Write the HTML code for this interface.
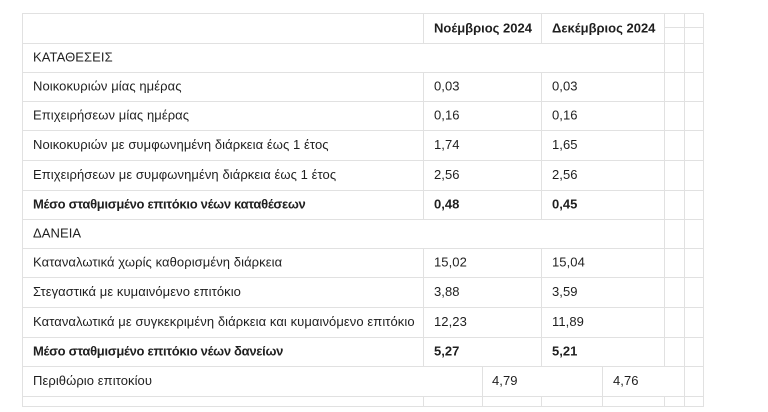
<!DOCTYPE html>
<html>
<head>
<meta charset="utf-8">
<style>
  html,body{margin:0;padding:0;background:#fff;}
  svg{display:block;}
  text{font-family:"Liberation Sans","DejaVu Sans",sans-serif;font-size:13px;fill:#1f1f1f;letter-spacing:0.08px;}
  .b{font-weight:bold;letter-spacing:0;}
  .bb{font-weight:bold;letter-spacing:-0.3px;}
  line{stroke:#e1e1e1;stroke-width:1;shape-rendering:crispEdges;}
</style>
</head>
<body>
<svg width="768" height="412" viewBox="0 0 768 412" xmlns="http://www.w3.org/2000/svg">
  <rect x="0" y="0" width="768" height="412" fill="#fff"/>
  <!-- horizontal lines -->
  <line x1="22" y1="13.5" x2="703" y2="13.5"/>
  <line x1="664" y1="27.5" x2="703" y2="27.5"/>
  <line x1="22" y1="43.5" x2="703" y2="43.5"/>
  <line x1="22" y1="72.5" x2="703" y2="72.5"/>
  <line x1="22" y1="101.5" x2="703" y2="101.5"/>
  <line x1="22" y1="130.5" x2="703" y2="130.5"/>
  <line x1="22" y1="160.5" x2="703" y2="160.5"/>
  <line x1="22" y1="190.5" x2="703" y2="190.5"/>
  <line x1="22" y1="219.5" x2="703" y2="219.5"/>
  <line x1="22" y1="248.5" x2="703" y2="248.5"/>
  <line x1="22" y1="277.5" x2="703" y2="277.5"/>
  <line x1="22" y1="307.5" x2="703" y2="307.5"/>
  <line x1="22" y1="337.5" x2="703" y2="337.5"/>
  <line x1="22" y1="366.5" x2="703" y2="366.5"/>
  <line x1="22" y1="396.5" x2="703" y2="396.5"/>
  <line x1="22" y1="406.5" x2="703" y2="406.5"/>
  <!-- vertical lines -->
  <line x1="22.5" y1="13" x2="22.5" y2="407"/>
  <line x1="703.5" y1="13" x2="703.5" y2="407"/>
  <line x1="684.5" y1="13" x2="684.5" y2="407"/>
  <line x1="664.5" y1="13" x2="664.5" y2="366"/>
  <line x1="664.5" y1="396" x2="664.5" y2="407"/>
  <line x1="423.5" y1="13" x2="423.5" y2="43"/>
  <line x1="423.5" y1="72" x2="423.5" y2="219"/>
  <line x1="423.5" y1="248" x2="423.5" y2="366"/>
  <line x1="423.5" y1="396" x2="423.5" y2="407"/>
  <line x1="541.5" y1="13" x2="541.5" y2="43"/>
  <line x1="541.5" y1="72" x2="541.5" y2="219"/>
  <line x1="541.5" y1="248" x2="541.5" y2="366"/>
  <line x1="541.5" y1="396" x2="541.5" y2="407"/>
  <line x1="482.5" y1="366" x2="482.5" y2="407"/>
  <line x1="602.5" y1="366" x2="602.5" y2="407"/>

  <!-- header -->
  <text class="b" x="434" y="32.5">Νοέμβριος 2024</text>
  <text class="b" x="552" y="32.5">Δεκέμβριος 2024</text>

  <!-- rows -->
  <text x="33" y="61.5">ΚΑΤΑΘΕΣΕΙΣ</text>

  <text x="33" y="90.5">Νοικοκυριών μίας ημέρας</text>
  <text x="434" y="90.5">0,03</text>
  <text x="552" y="90.5">0,03</text>

  <text x="33" y="119.5">Επιχειρήσεων μίας ημέρας</text>
  <text x="434" y="119.5">0,16</text>
  <text x="552" y="119.5">0,16</text>

  <text x="33" y="149">Νοικοκυριών με συμφωνημένη διάρκεια έως 1 έτος</text>
  <text x="434" y="149">1,74</text>
  <text x="552" y="149">1,65</text>

  <text x="33" y="179">Επιχειρήσεων με συμφωνημένη διάρκεια έως 1 έτος</text>
  <text x="434" y="179">2,56</text>
  <text x="552" y="179">2,56</text>

  <text class="bb" x="33" y="208.5">Μέσο σταθμισμένο επιτόκιο νέων καταθέσεων</text>
  <text class="b" x="434" y="208.5">0,48</text>
  <text class="b" x="552" y="208.5">0,45</text>

  <text x="33" y="237.5">ΔΑΝΕΙΑ</text>

  <text x="33" y="266.5">Καταναλωτικά χωρίς καθορισμένη διάρκεια</text>
  <text x="434" y="266.5">15,02</text>
  <text x="552" y="266.5">15,04</text>

  <text x="33" y="296">Στεγαστικά με κυμαινόμενο επιτόκιο</text>
  <text x="434" y="296">3,88</text>
  <text x="552" y="296">3,59</text>

  <text x="33" y="326">Καταναλωτικά με συγκεκριμένη διάρκεια και κυμαινόμενο επιτόκιο</text>
  <text x="434" y="326">12,23</text>
  <text x="552" y="326">11,89</text>

  <text class="bb" x="33" y="355.5">Μέσο σταθμισμένο επιτόκιο νέων δανείων</text>
  <text class="b" x="434" y="355.5">5,27</text>
  <text class="b" x="552" y="355.5">5,21</text>

  <text x="33" y="385">Περιθώριο επιτοκίου</text>
  <text x="492" y="385">4,79</text>
  <text x="613" y="385">4,76</text>
</svg>
</body>
</html>
